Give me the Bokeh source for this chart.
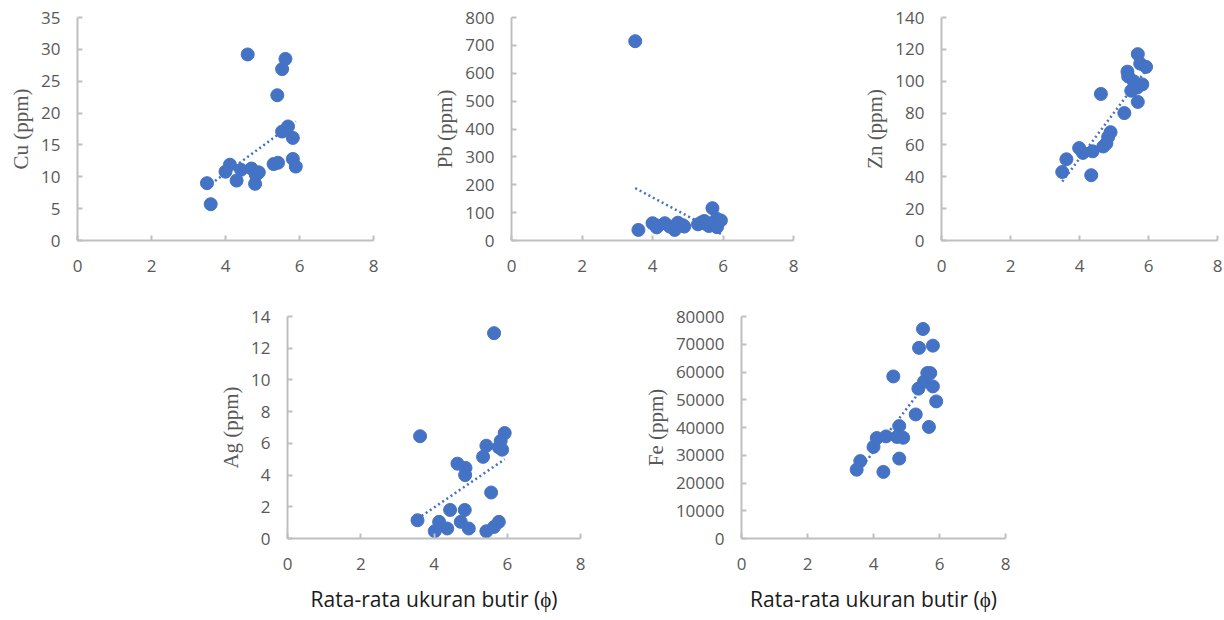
import numpy as np
from bokeh.plotting import figure
from bokeh.layouts import column, row
from bokeh.models import Spacer, Range1d, FixedTicker
from bokeh.embed import file_html
from bokeh.resources import INLINE

# ---- data ----
x_ticks = [0, 2, 4, 6, 8]

cu_x = [3.5, 3.6, 4.0, 4.12, 4.3, 4.42, 4.6, 4.7, 4.8, 4.82, 4.9, 5.3, 5.42, 5.4, 5.53, 5.62, 5.53, 5.69, 5.82, 5.82, 5.9]
cu_y = [9.0, 5.7, 10.8, 11.9, 9.4, 11.1, 29.2, 11.3, 8.9, 10.3, 10.7, 12.0, 12.2, 22.8, 26.9, 28.5, 17.1, 17.9, 16.1, 12.8, 11.6]

pb_x = [3.51, 3.6, 4.0, 4.1, 4.12, 4.35, 4.49, 4.63, 4.72, 4.86, 4.9, 5.29, 5.39, 5.47, 5.5, 5.6, 5.7, 5.75, 5.82, 5.83, 5.94, 5.56]
pb_y = [715, 38, 62, 55, 47, 62, 50, 38, 64, 55, 50, 58, 65, 70, 60, 52, 116, 64, 78, 48, 72, 62]

zn_x = [3.5, 3.62, 3.99, 4.1, 4.34, 4.38, 4.62, 4.69, 4.78, 4.83, 4.9, 5.3, 5.39, 5.41, 5.5, 5.57, 5.69, 5.69, 5.76, 5.82, 5.93, 5.67]
zn_y = [43, 51, 58, 55, 41, 56, 92, 59, 61, 65, 68, 80, 106, 103, 94, 100, 117, 87, 111, 98, 109, 96]

ag_x = [3.55, 3.62, 4.02, 4.14, 4.36, 4.44, 4.64, 4.73, 4.84, 4.86, 4.85, 4.95, 5.34, 5.43, 5.43, 5.56, 5.64, 5.64, 5.77, 5.77, 5.86, 5.93, 5.82]
ag_y = [1.15, 6.45, 0.46, 1.05, 0.63, 1.8, 4.72, 1.05, 1.8, 4.45, 4.0, 0.63, 5.15, 5.85, 0.46, 2.9, 12.95, 0.73, 1.05, 5.75, 5.6, 6.65, 6.15]

fe_x = [3.49, 3.6, 4.0, 4.1, 4.3, 4.38, 4.6, 4.78, 4.78, 4.71, 4.9, 5.28, 5.36, 5.38, 5.5, 5.53, 5.63, 5.72, 5.68, 5.8, 5.8, 5.9]
fe_y = [24800, 27900, 33000, 36200, 24000, 36800, 58400, 40500, 28800, 36600, 36300, 44700, 54000, 68700, 75500, 56500, 59600, 59600, 40200, 69500, 54800, 49400]

x_title = "Rata-rata ukuran butir (ϕ)"

BLUE = "#4472C4"
AXIS = "#BFBFBF"
TICKTXT = "#595959"


def panel(xs, ys, ylabel, ymax, ystep, width, height, left, right, top, bottom, xlabel=None):
    p = figure(width=width, height=height, output_backend="svg", toolbar_location=None,
               x_range=Range1d(0, 8), y_range=Range1d(0, ymax),
               min_border_left=left, min_border_right=right,
               min_border_top=top, min_border_bottom=bottom)
    p.outline_line_color = None
    p.xgrid.visible = False
    p.ygrid.visible = False
    p.background_fill_color = "white"
    p.border_fill_color = "white"

    # trendline (linear least squares fit of the data)
    m, b = np.polyfit(np.array(xs), np.array(ys), 1)
    tx = np.array([min(xs), max(xs)])
    p.line(tx, m * tx + b, line_color=BLUE, line_width=2.5, line_dash="2 3")
    p.scatter(xs, ys, size=13, fill_color=BLUE, line_color=BLUE, line_width=1)

    for ax, ticks in ((p.xaxis[0], x_ticks), (p.yaxis[0], list(range(0, int(ymax) + 1, int(ystep))))):
        ax.ticker = FixedTicker(ticks=ticks)
        ax.axis_line_color = AXIS
        ax.axis_line_width = 2
        ax.major_tick_line_color = AXIS
        ax.major_tick_line_width = 2
        ax.major_tick_in = 5
        ax.major_tick_out = 0
        ax.minor_tick_line_color = None
        ax.major_label_text_font = "Open Sans"
        ax.major_label_text_font_size = "17px"
        ax.major_label_text_color = TICKTXT
    p.yaxis[0].major_label_standoff = 17
    p.xaxis[0].major_label_standoff = 19

    p.yaxis[0].axis_label = ylabel
    p.yaxis[0].axis_label_text_font = "Liberation Serif"
    p.yaxis[0].axis_label_text_font_style = "normal"
    p.yaxis[0].axis_label_text_font_size = "21px"
    p.yaxis[0].axis_label_text_color = TICKTXT
    p.yaxis[0].axis_label_standoff = 5

    if xlabel:
        p.xaxis[0].axis_label = xlabel
        p.xaxis[0].axis_label_text_font = "Open Sans"
        p.xaxis[0].axis_label_text_font_style = "normal"
        p.xaxis[0].axis_label_text_font_size = "21px"
        p.xaxis[0].axis_label_text_color = "#1a1a1a"
        p.xaxis[0].axis_label_standoff = 12
    return p


p_cu = panel(cu_x, cu_y, "Cu (ppm)", 35, 5, 430, 290, 77, 57, 17, 50)
p_pb = panel(pb_x, pb_y, "Pb (ppm)", 800, 100, 430, 290, 78, 67, 17, 50)
p_zn = panel(zn_x, zn_y, "Zn (ppm)", 140, 20, 364, 290, 71, 7, 17, 50)

p_ag = panel(ag_x, ag_y, "Ag (ppm)", 14, 2, 460, 330, 107, 60, 26, 82, x_title)
p_fe = panel(fe_x, fe_y, "Fe (ppm)", 80000, 10000, 584, 330, 100, 219, 26, 82, x_title)

layout = column(
    row(p_cu, p_pb, p_zn, spacing=0),
    row(Spacer(width=180, height=330), p_ag, p_fe, spacing=0),
    spacing=0,
)

html = file_html(layout, INLINE)
open("out.html", "w").write(html)
